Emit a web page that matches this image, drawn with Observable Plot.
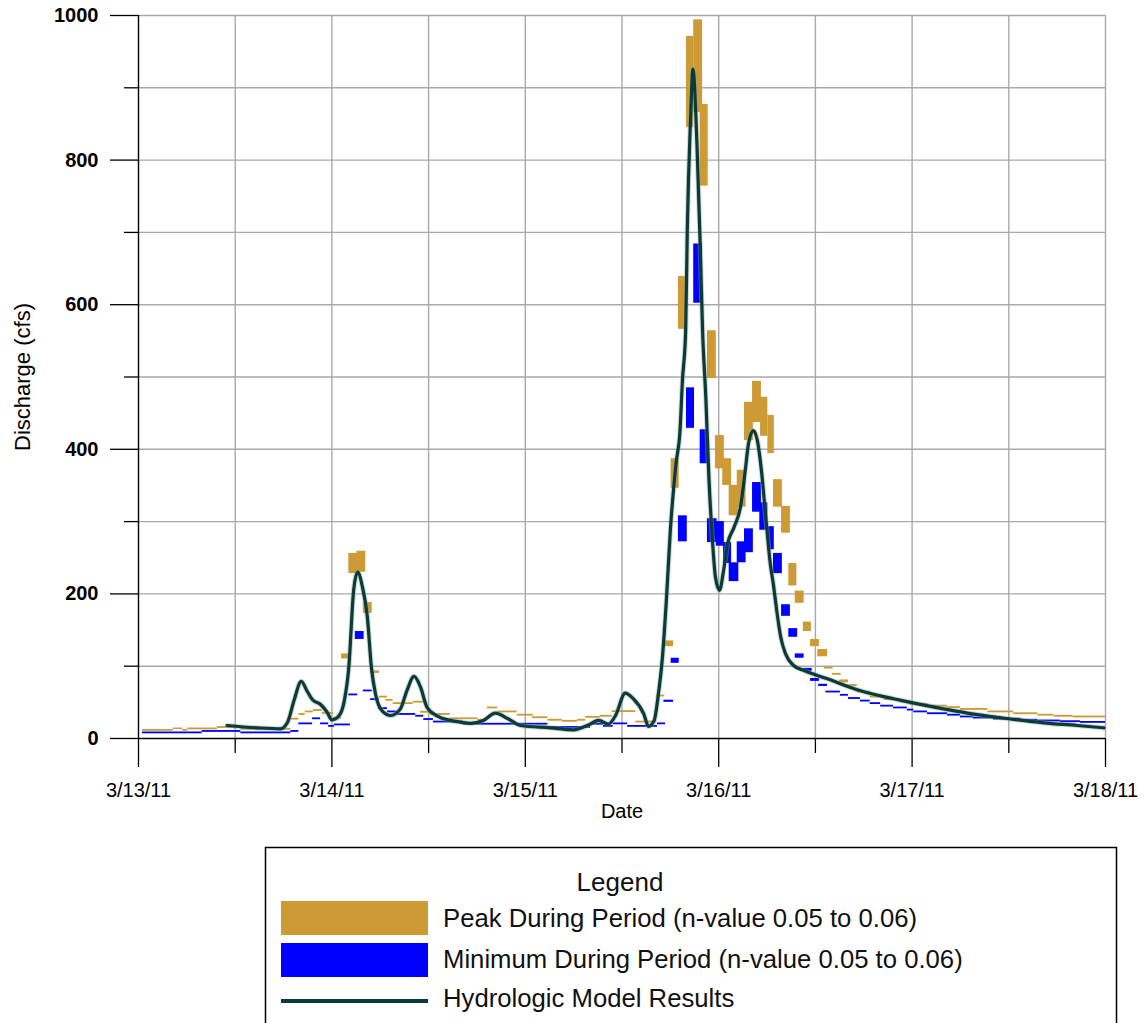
<!DOCTYPE html>
<html>
<head>
<meta charset="utf-8">
<script src="https://cdn.jsdelivr.net/npm/d3@7"></script>
<script src="https://cdn.jsdelivr.net/npm/@observablehq/plot@0.6"></script>
<style>
  html, body { margin: 0; padding: 0; background: #fff; width: 1145px; height: 1023px; overflow: hidden; }
  #chart { position: absolute; left: 0; top: 0; }
  #legend { position: absolute; left: 0; top: 840px; }
  #legend text { font-family: "Liberation Sans", Arial, sans-serif; fill: #111; }
</style>
</head>
<body>
<div id="chart"></div>
<svg id="legend" width="1145" height="183">
  <rect x="265.5" y="7.5" width="851" height="200" fill="none" stroke="#000" stroke-width="1.5"></rect>
  <text x="620" y="51" text-anchor="middle" font-size="26">Legend</text>
  <rect id="swPeak" x="281" y="61" width="147" height="34"></rect>
  <rect id="swMin" x="281" y="103" width="147" height="34"></rect>
  <line id="swModel" x1="281" x2="428" y1="161" y2="161" stroke-width="4"></line>
  <text x="443" y="87" font-size="25.7">Peak During Period (n-value 0.05 to 0.06)</text>
  <text x="443" y="128" font-size="25.7">Minimum During Period (n-value 0.05 to 0.06)</text>
  <text x="443" y="167" font-size="25.7">Hydrologic Model Results</text>
</svg>
<script>
// Hours are counted from 3/13/11 00:00.
const START = Date.UTC(2011, 2, 13);
const at = h => new Date(START + h * 3600e3);

// Peak discharge during each period: [start h, end h, low cfs, high cfs]
const peakBars = [
  [0.5, 4.3, 10, 12.5], [4.3, 5.5, 12.5, 14.5], [5.5, 6.1, 10, 12.5], [6.1, 9.8, 12, 14.5],
  [9.8, 12.7, 14, 16.5], [12.7, 18.9, 11.5, 14], [18.7, 19.9, 25.5, 28], [19.9, 20.7, 32, 34.5],
  [20.7, 21.7, 35.5, 38], [21.7, 22.8, 37.5, 40], [22.8, 24.2, 33.5, 36], [24.2, 25.2, 26.5, 29],
  [25.2, 26.2, 110, 117], [26.1, 27.2, 228, 256], [27.1, 28.2, 230, 259], [27.9, 29.0, 173, 188],
  [28.8, 29.9, 90, 93.5], [29.9, 30.9, 56, 58.5], [30.7, 31.6, 51.5, 54], [31.6, 34.1, 47, 49.5],
  [34.1, 35.4, 49, 51.5], [35.0, 36.2, 35, 37.5], [36.2, 38.7, 32, 34.5], [38.7, 42.1, 26, 28.5],
  [42.1, 43.3, 24, 26.5], [43.3, 44.6, 41, 43.5], [44.6, 47.0, 35.5, 38], [47.0, 49.0, 31, 33.5],
  [48.9, 50.8, 27.5, 30], [50.8, 52.6, 24, 26.5], [52.6, 54.5, 22.5, 25], [54.5, 55.5, 24, 26.5],
  [55.5, 57.3, 28, 30.5], [57.3, 58.8, 29.5, 32], [58.8, 61.7, 36, 38.5], [61.7, 64.3, 21.5, 24],
  [64.3, 65.3, 57.5, 60], [65.3, 66.4, 127, 135], [66.1, 67.1, 346, 387], [67.0, 68.0, 566, 639],
  [68.0, 68.9, 845, 971], [68.9, 70.0, 866, 994], [69.7, 70.7, 764, 877], [70.6, 71.7, 498, 564],
  [71.6, 72.7, 373, 419], [72.5, 73.6, 350, 387], [73.3, 74.5, 308, 350], [74.3, 75.4, 320, 371],
  [75.2, 76.3, 412, 465], [76.2, 77.3, 437, 494], [77.2, 78.1, 418, 472], [78.1, 78.9, 394, 447],
  [78.8, 79.9, 320, 358], [79.8, 80.9, 284, 321], [80.7, 81.7, 211, 242], [81.5, 82.6, 187, 204],
  [82.5, 83.5, 148, 161], [83.4, 84.5, 127, 137], [84.3, 85.5, 113, 123], [85.1, 86.2, 96, 98.5],
  [86.1, 87.2, 87.5, 90], [87.0, 88.1, 77, 81], [88.0, 89.2, 72, 74.5], [89.2, 90.8, 63, 65.5],
  [90.8, 92.5, 56, 58.5], [92.5, 94.6, 52.5, 55], [94.6, 95.8, 49, 51.5], [95.8, 98.0, 46, 48.5],
  [98.0, 100.4, 43.5, 46], [100.4, 102.0, 41.5, 44], [102.0, 105.4, 39, 41.5], [105.4, 108.6, 35.5, 38],
  [108.6, 111.6, 33, 35.5], [111.6, 113.6, 31, 33.5], [113.6, 116.0, 29.5, 32], [116.0, 120, 28.5, 31]
];

// Minimum discharge during each period: [start h, end h, low cfs, high cfs]
const minBars = [
  [0.5, 7.9, 6.5, 9], [7.9, 12.7, 8.5, 11], [12.7, 18.9, 6.5, 9], [18.9, 19.9, 8.5, 11],
  [19.9, 21.6, 19, 21.5], [21.6, 22.6, 26, 28.5], [22.6, 23.6, 19, 21.5], [23.6, 24.3, 15.5, 18],
  [24.3, 26.3, 17.5, 20], [26.1, 27.2, 59, 61.5], [26.9, 28.0, 137, 148], [27.9, 29.0, 64.5, 67],
  [28.8, 29.9, 52.5, 55], [29.8, 30.9, 40, 42.5], [30.9, 32.1, 35.5, 38], [32.1, 34.4, 32, 34.5],
  [34.4, 35.4, 29.5, 32], [35.4, 36.6, 25, 27.5], [36.6, 40.3, 21.5, 24], [40.3, 50.8, 18.5, 21],
  [50.8, 56.1, 14, 16.5], [56.1, 57.7, 18.5, 21], [57.7, 58.9, 15.5, 18], [58.9, 60.7, 19, 21.5],
  [60.7, 64.4, 15.5, 18], [64.4, 65.4, 19, 21.5], [65.2, 66.4, 50, 53], [66.1, 67.1, 104, 111],
  [67.0, 68.1, 272, 308], [68.0, 69.0, 429, 485], [68.9, 70.0, 602, 684], [69.7, 70.7, 380, 427],
  [70.6, 71.8, 271, 304], [71.7, 72.7, 266, 300], [72.6, 73.6, 242, 271], [73.3, 74.5, 217, 243],
  [74.3, 75.4, 243, 272], [75.2, 76.3, 257, 290], [76.2, 77.3, 313, 354], [77.1, 78.1, 288, 326],
  [78.1, 78.9, 261, 293], [78.8, 79.9, 228, 256], [79.8, 80.9, 169, 185], [80.7, 81.8, 140, 152],
  [81.5, 82.6, 111, 117], [82.5, 83.6, 93, 97], [83.4, 84.5, 79, 83], [84.4, 85.5, 72, 75],
  [85.3, 87.1, 63, 65.5], [87.1, 88.1, 58.5, 61], [88.1, 89.6, 54, 56.5], [89.6, 90.8, 50.5, 53],
  [90.8, 92.1, 47, 49.5], [92.1, 93.7, 43.5, 46], [93.7, 95.4, 41, 43.5], [95.4, 96.2, 38, 40.5],
  [96.2, 97.9, 35.5, 38], [97.9, 100.4, 33, 35.5], [100.4, 102.0, 31, 33.5], [102.0, 103.6, 28.5, 31],
  [103.6, 106.1, 27, 29.5], [106.1, 109.5, 25.5, 28], [109.5, 111.6, 24, 26.5], [111.6, 114.4, 23, 25.5],
  [114.4, 116.9, 22, 24.5], [116.9, 120, 21, 23.5]
];

// Hydrologic model hydrograph: [h, cfs]
const model = [
  [11.0, 18], [14.7, 14.8], [17.6, 13.4], [18.5, 22.6], [19.3, 52.6], [20.2, 79], [20.9, 66],
  [21.6, 53.5], [22.6, 47], [23.4, 36.4], [24.0, 25.8], [24.9, 31.8], [25.5, 50], [26.1, 98.6],
  [26.7, 205], [27.2, 230], [27.8, 209], [28.4, 168], [28.9, 98.6], [29.4, 62], [30.2, 38.7],
  [31.3, 31.8], [32.5, 41], [33.3, 66], [34.2, 85.8], [35.0, 71], [35.8, 43.3], [37.1, 30.9],
  [38.7, 25], [40.0, 22.6], [41.2, 21], [42.8, 25], [44.3, 35], [45.8, 27.7], [47.4, 18],
  [51.1, 14.8], [54.0, 12], [55.7, 18], [57.1, 25], [58.3, 20], [59.2, 31.8], [60.4, 62.7],
  [61.4, 55], [62.7, 34], [63.3, 16.6], [64.0, 25], [64.5, 60], [65.0, 110], [65.5, 190],
  [66.0, 288], [66.7, 380], [67.2, 426], [67.5, 495], [67.9, 564], [68.1, 702], [68.5, 855],
  [68.8, 926], [69.3, 823], [69.7, 684], [70.0, 564], [70.4, 472], [70.8, 357], [71.2, 278],
  [71.6, 223], [72.1, 205], [72.6, 232], [73.1, 269], [73.9, 292], [74.7, 320], [75.3, 371],
  [75.7, 408], [76.3, 426], [76.8, 412], [77.3, 371], [77.8, 311], [78.4, 242], [78.8, 212],
  [79.2, 177], [79.7, 140], [80.3, 117], [81.3, 101], [82.6, 94], [85.5, 82.5], [89.6, 66],
  [93.7, 55], [95.8, 50], [99.9, 41], [104.1, 33], [108.2, 27], [112.3, 21.7], [116.5, 18],
  [119.8, 14.8]
];

// Axis ticks
const dayTicks = d3.range(0, 121, 24).map(at);
const halfDayTicks = d3.range(12, 121, 24).map(at);
const gridHours = d3.range(12, 121, 12).map(at);
const yMajor = d3.range(0, 1001, 200);
const yMinor = d3.range(100, 1000, 200);
const yGrid = d3.range(100, 1001, 100);

const PEAK = "#cd9a35";
const MIN = "#0000ff";
const MODEL = "#0b3b36";
const GRID = "#a9a9a9";
const FONT = "'Liberation Sans', Arial, sans-serif";

const dateFmt = d => `${d.getUTCMonth() + 1}/${d.getUTCDate()}/11`;

const chart = Plot.plot({
  width: 1145,
  height: 840,
  marginLeft: 138,
  marginRight: 40,
  marginTop: 15,
  marginBottom: 102,
  style: { fontFamily: FONT, background: "transparent", color: "#000" },
  x: { type: "utc", domain: [at(0), at(120)] },
  y: { domain: [0, 1000] },
  marks: [
    Plot.gridX(gridHours, { stroke: GRID, strokeOpacity: 1, strokeWidth: 1.4 }),
    Plot.gridY(yGrid, { stroke: GRID, strokeOpacity: 1, strokeWidth: 1.4 }),
    Plot.rect(peakBars, { x1: d => at(d[0]), x2: d => at(d[1]), y1: d => d[2], y2: d => d[3], fill: PEAK }),
    Plot.rect(minBars, { x1: d => at(d[0]), x2: d => at(d[1]), y1: d => d[2], y2: d => d[3], fill: MIN }),
    Plot.line(model, { x: d => at(d[0]), y: d => d[1], curve: "monotone-x", stroke: "#8fa5a2", strokeOpacity: 0.45, strokeWidth: 5.2 }),
    Plot.line(model, { x: d => at(d[0]), y: d => d[1], curve: "monotone-x", stroke: MODEL, strokeWidth: 3.2 }),
    Plot.ruleY([0], { stroke: "#000", strokeWidth: 1.4 }),
    Plot.ruleX([at(0)], { stroke: "#000", strokeWidth: 1.4 }),
    Plot.axisY(yMajor, { tickSize: 28, tickPadding: 12, fontSize: 20, fontWeight: "bold", tickFormat: d => String(d), label: null, strokeWidth: 1.3 }),
    Plot.axisY(yMinor, { tickSize: 14, text: null, label: null, strokeWidth: 1.3 }),
    Plot.axisX(dayTicks, { tickSize: 29, tickPadding: 15, fontSize: 20, tickFormat: dateFmt, label: null, strokeWidth: 1.3 }),
    Plot.axisX(halfDayTicks, { tickSize: 15, text: null, label: null, strokeWidth: 1.3 }),
    Plot.text(["Date"], { frameAnchor: "bottom", dy: 79, fontSize: 20, fill: "#000" }),
    Plot.text(["Discharge (cfs)"], { frameAnchor: "left", textAnchor: "middle", dx: -116, rotate: -90, fontSize: 22, fill: "#000" })
  ]
});

document.getElementById("chart").append(chart);
document.getElementById("swPeak").setAttribute("fill", PEAK);
document.getElementById("swMin").setAttribute("fill", MIN);
document.getElementById("swModel").setAttribute("stroke", MODEL);
</script>
</body>
</html>
